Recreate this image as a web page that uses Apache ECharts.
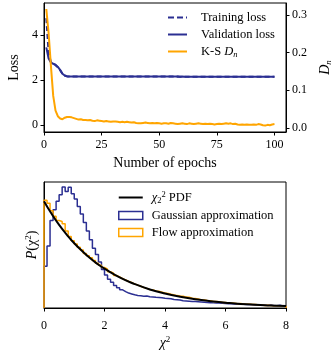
<!DOCTYPE html>
<html>
<head>
<meta charset="utf-8">
<script src="https://cdn.jsdelivr.net/npm/echarts@6/dist/echarts.min.js"></script>
<style>
html, body { margin: 0; padding: 0; background: #fff; }
#main { width: 336px; height: 355px; }
</style>
</head>
<body>
<div id="main"></div>
<script>
// top panel: losses and K-S statistic per epoch
var epochs = [1, 2, 3, 4, 5, 6, 7, 8, 9, 10, 11, 12, 13, 14, 15, 16, 17, 18, 19, 20,
    21, 22, 23, 24, 25, 26, 27, 28, 29, 30, 31, 32, 33, 34, 35, 36, 37, 38, 39, 40,
    41, 42, 43, 44, 45, 46, 47, 48, 49, 50, 51, 52, 53, 54, 55, 56, 57, 58, 59, 60,
    61, 62, 63, 64, 65, 66, 67, 68, 69, 70, 71, 72, 73, 74, 75, 76, 77, 78, 79, 80,
    81, 82, 83, 84, 85, 86, 87, 88, 89, 90, 91, 92, 93, 94, 95, 96, 97, 98, 99, 100];

var trainLoss = [4.75, 3.20, 2.80, 2.72, 2.66, 2.57, 2.43, 2.27, 2.19, 2.16,
    2.16, 2.15, 2.15, 2.15, 2.15, 2.15, 2.15, 2.15, 2.15, 2.15,
    2.15, 2.15, 2.15, 2.15, 2.15, 2.15, 2.15, 2.15, 2.15, 2.15,
    2.15, 2.15, 2.15, 2.15, 2.15, 2.15, 2.15, 2.15, 2.15, 2.15,
    2.15, 2.15, 2.15, 2.15, 2.15, 2.15, 2.15, 2.15, 2.15, 2.15,
    2.15, 2.15, 2.15, 2.15, 2.15, 2.15, 2.14, 2.15, 2.14, 2.14,
    2.14, 2.14, 2.14, 2.14, 2.14, 2.14, 2.14, 2.14, 2.14, 2.14,
    2.14, 2.14, 2.14, 2.14, 2.14, 2.14, 2.14, 2.14, 2.14, 2.14,
    2.14, 2.14, 2.14, 2.14, 2.14, 2.14, 2.14, 2.14, 2.14, 2.14,
    2.14, 2.14, 2.14, 2.14, 2.14, 2.14, 2.14, 2.14, 2.14, 2.14];

var valLoss = [3.45, 2.95, 2.78, 2.72, 2.68, 2.58, 2.45, 2.28, 2.20, 2.17,
    2.16, 2.16, 2.16, 2.15, 2.15, 2.15, 2.15, 2.15, 2.15, 2.15,
    2.15, 2.15, 2.15, 2.15, 2.15, 2.15, 2.15, 2.15, 2.15, 2.15,
    2.15, 2.15, 2.15, 2.15, 2.15, 2.15, 2.15, 2.15, 2.15, 2.15,
    2.15, 2.15, 2.15, 2.15, 2.15, 2.15, 2.15, 2.15, 2.15, 2.15,
    2.15, 2.15, 2.15, 2.15, 2.15, 2.15, 2.15, 2.15, 2.14, 2.15,
    2.14, 2.14, 2.14, 2.14, 2.14, 2.14, 2.14, 2.14, 2.14, 2.14,
    2.14, 2.14, 2.14, 2.14, 2.14, 2.14, 2.14, 2.14, 2.14, 2.14,
    2.14, 2.14, 2.14, 2.14, 2.14, 2.14, 2.14, 2.14, 2.14, 2.14,
    2.14, 2.14, 2.14, 2.14, 2.14, 2.14, 2.14, 2.14, 2.14, 2.14];

var ksDn = [0.316, 0.252, 0.165, 0.085, 0.046, 0.031, 0.025, 0.023, 0.027, 0.029,
    0.029, 0.028, 0.026, 0.024, 0.022, 0.023, 0.021, 0.021, 0.020, 0.021,
    0.019, 0.018, 0.020, 0.019, 0.018, 0.017, 0.018, 0.017, 0.016, 0.017,
    0.017, 0.016, 0.015, 0.016, 0.015, 0.016, 0.015, 0.014, 0.015, 0.013,
    0.012, 0.012, 0.013, 0.014, 0.013, 0.012, 0.013, 0.012, 0.013, 0.012,
    0.011, 0.012, 0.012, 0.011, 0.013, 0.012, 0.011, 0.010, 0.011, 0.012,
    0.011, 0.010, 0.012, 0.011, 0.010, 0.011, 0.012, 0.011, 0.010, 0.011,
    0.010, 0.011, 0.010, 0.009, 0.010, 0.011, 0.010, 0.011, 0.012, 0.011,
    0.012, 0.010, 0.011, 0.009, 0.008, 0.009, 0.008, 0.009, 0.008, 0.008,
    0.009, 0.008, 0.010, 0.009, 0.007, 0.006, 0.008, 0.007, 0.009, 0.010];

var epochTicks = [0, 25, 50, 75, 100];
var lossTicks = [0, 2, 4];
var dnTicks = [0, 0.1, 0.2, 0.3];

// bottom panel: chi2 pdf and the two histograms (bin width 0.1)
var pdfX = [0, 0.25, 0.5, 0.75, 1, 1.25, 1.5, 1.75, 2, 2.5, 3, 3.5, 4, 4.5, 5, 5.5, 6, 6.5, 7, 7.5, 8];
var pdfY = [0.5, 0.441, 0.389, 0.344, 0.303, 0.268, 0.236, 0.208, 0.184, 0.143, 0.112, 0.087, 0.068,
    0.053, 0.041, 0.032, 0.025, 0.019, 0.015, 0.012, 0.009];

var binEdges = [0.0, 0.1, 0.2, 0.3, 0.4, 0.5, 0.6, 0.7, 0.8, 0.9, 1.0, 1.1, 1.2, 1.3, 1.4, 1.5, 1.6, 1.7, 1.8, 1.9,
    2.0, 2.1, 2.2, 2.3, 2.4, 2.5, 2.6, 2.7, 2.8, 2.9, 3.0, 3.1, 3.2, 3.3, 3.4, 3.5, 3.6, 3.7, 3.8, 3.9,
    4.0, 4.1, 4.2, 4.3, 4.4, 4.5, 4.6, 4.7, 4.8, 4.9, 5.0, 5.1, 5.2, 5.3, 5.4, 5.5, 5.6, 5.7, 5.8, 5.9,
    6.0, 6.1, 6.2, 6.3, 6.4, 6.5, 6.6, 6.7, 6.8, 6.9, 7.0, 7.1, 7.2, 7.3, 7.4, 7.5, 7.6, 7.7, 7.8, 7.9, 8.0];

var gaussHist = [0.195, 0.29, 0.41, 0.46, 0.50, 0.53, 0.567, 0.545, 0.565, 0.535,
    0.51, 0.475, 0.44, 0.40, 0.36, 0.32, 0.28, 0.25, 0.215, 0.18,
    0.155, 0.135, 0.12, 0.105, 0.095, 0.085, 0.077, 0.07, 0.066, 0.062,
    0.059, 0.057, 0.055, 0.056, 0.053, 0.052, 0.05, 0.049, 0.048, 0.046,
    0.045, 0.043, 0.04, 0.039, 0.037, 0.034, 0.033, 0.032, 0.031, 0.03,
    0.029, 0.028, 0.027, 0.026, 0.025, 0.024, 0.023, 0.023, 0.022, 0.021,
    0.02, 0.02, 0.019, 0.018, 0.018, 0.017, 0.016, 0.016, 0.015, 0.014,
    0.015, 0.013, 0.013, 0.012, 0.014, 0.011, 0.011, 0.013, 0.01, 0.01];

var flowHist = [0.505, 0.49, 0.455, 0.43, 0.41, 0.405, 0.395, 0.36, 0.335, 0.315,
    0.30, 0.285, 0.272, 0.255, 0.245, 0.235, 0.222, 0.21, 0.20, 0.19,
    0.182, 0.17, 0.163, 0.152, 0.146, 0.137, 0.131, 0.124, 0.12, 0.112,
    0.107, 0.102, 0.096, 0.092, 0.087, 0.085, 0.08, 0.078, 0.074, 0.07,
    0.068, 0.064, 0.061, 0.058, 0.056, 0.055, 0.051, 0.05, 0.046, 0.044,
    0.042, 0.038, 0.037, 0.035, 0.034, 0.031, 0.03, 0.029, 0.026, 0.026,
    0.024, 0.023, 0.022, 0.02, 0.021, 0.019, 0.017, 0.018, 0.016, 0.016,
    0.014, 0.014, 0.012, 0.013, 0.012, 0.011, 0.011, 0.01, 0.009, 0.009];

var chiTicks = [0, 2, 4, 6, 8];

var blue = '#2b2f92';
var orange = '#ffa500';
var font = 'Liberation Serif';

function pairs(xs, ys) {
    let out = [];
    for (let i = 0; i < ys.length; i = i + 1) {
        out.push([xs[i], ys[i]]);
    }
    return out;
}

// step outline like matplotlib histtype='step'
function stepOutline(edges, counts) {
    let out = [[edges[0], 0]];
    for (let i = 0; i < counts.length; i = i + 1) {
        out.push([edges[i], counts[i]]);
    }
    out.push([edges[counts.length], counts[counts.length - 1]]);
    out.push([edges[counts.length], 0]);
    return out;
}

var richText = {
    i: { fontFamily: font, fontStyle: 'italic', fontSize: 14, color: '#000' },
    s: { fontFamily: font, fontStyle: 'italic', fontSize: 9, color: '#000', padding: [7, 0, 0, 0] },
    sup: { fontFamily: font, fontSize: 9, color: '#000', padding: [0, 0, 7, 0] },
    sub: { fontFamily: font, fontSize: 9, color: '#000', padding: [7, 0, 0, 0] }
};

var legendRich = {
    i: { fontFamily: font, fontStyle: 'italic', fontSize: 12.5, color: '#000' },
    s: { fontFamily: font, fontStyle: 'italic', fontSize: 8.5, color: '#000', padding: [6, 0, 0, 0] },
    sup: { fontFamily: font, fontSize: 8.5, color: '#000', padding: [0, 0, 6, 0] },
    sub: { fontFamily: font, fontSize: 8.5, color: '#000', padding: [6, 0, 0, 0] }
};

var tickStyle = { show: true, length: 3.5, lineStyle: { color: '#000', width: 1 } };
var labelStyle = { color: '#000', fontSize: 12, fontFamily: font };

var myChart = echarts.init(document.getElementById('main'));

var option = {
    animation: false,
    backgroundColor: '#fff',
    textStyle: { fontFamily: font, color: '#000' },
    grid: [
        { left: 44, top: 3, width: 242, height: 129, show: true, borderColor: '#000', borderWidth: 1, containLabel: false, outerBoundsMode: 'none' },
        { left: 44, top: 182, width: 242, height: 126, show: true, borderColor: '#000', borderWidth: 1, containLabel: false, outerBoundsMode: 'none' }
    ],
    legend: [
        {
            data: [
                { name: 'Training loss', icon: 'path://M0,0h6v2h-6z M9,0h6v2h-6z M18,0h1v2h-1z', itemStyle: { color: blue } },
                { name: 'Validation loss', icon: 'path://M0,0h19v2h-19z', itemStyle: { color: blue } },
                { name: 'K-S Dn', icon: 'path://M0,0h19v2h-19z', itemStyle: { color: orange } }
            ],
            orient: 'vertical',
            left: 168,
            top: 11,
            padding: 0,
            itemWidth: 19,
            itemHeight: 10,
            itemGap: 4,
            textStyle: { fontFamily: font, fontSize: 12.5, color: '#000', padding: [0, 0, 0, 9], rich: legendRich },
            formatter: function (name) {
                if (name === 'K-S Dn') {
                    return 'K-S {i|D}{s|n}';
                }
                return name;
            }
        },
        {
            data: [
                { name: 'chi2 PDF', icon: 'path://M0,0h24v2h-24z', itemStyle: { color: '#000' } },
                { name: 'Gaussian approximation', icon: 'rect', itemStyle: { color: 'rgba(0,0,0,0)', borderColor: blue, borderWidth: 1.5 } },
                { name: 'Flow approximation', icon: 'rect', itemStyle: { color: 'rgba(0,0,0,0)', borderColor: orange, borderWidth: 1.5 } }
            ],
            orient: 'vertical',
            left: 118,
            top: 190,
            padding: 0,
            itemWidth: 24,
            itemHeight: 8,
            itemGap: 4,
            textStyle: { fontFamily: font, fontSize: 12.5, color: '#000', padding: [0, 0, 0, 4], rich: legendRich },
            formatter: function (name) {
                if (name === 'chi2 PDF') {
                    return '{i|χ}{sub|2}{sup|2} PDF';
                }
                return name;
            }
        }
    ],
    xAxis: [
        {
            gridIndex: 0, type: 'value', min: 0, max: 105,
            axisLine: { show: true, onZero: false, lineStyle: { color: '#000' } },
            axisTick: Object.assign({ customValues: epochTicks }, tickStyle),
            axisLabel: Object.assign({ customValues: epochTicks, margin: 7 }, labelStyle),
            splitLine: { show: false },
            name: 'Number of epochs', nameLocation: 'middle', nameGap: 24,
            nameTextStyle: { fontSize: 14, color: '#000', fontFamily: font }
        },
        {
            gridIndex: 1, type: 'value', min: 0, max: 8,
            axisLine: { show: true, onZero: false, lineStyle: { color: '#000' } },
            axisTick: Object.assign({ customValues: chiTicks }, tickStyle),
            axisLabel: Object.assign({ customValues: chiTicks, margin: 12 }, labelStyle),
            splitLine: { show: false },
            name: '{i|χ}{sup|2}', nameLocation: 'middle', nameGap: 27,
            nameTextStyle: { fontSize: 14, color: '#000', fontFamily: font, rich: richText }
        }
    ],
    yAxis: [
        {
            gridIndex: 0, type: 'value', min: -0.31, max: 5.42,
            axisLine: { show: true, onZero: false, lineStyle: { color: '#000' } },
            axisTick: Object.assign({ customValues: lossTicks }, tickStyle),
            axisLabel: Object.assign({ customValues: lossTicks, margin: 6 }, labelStyle),
            splitLine: { show: false },
            name: 'Loss', nameLocation: 'middle', nameGap: 21,
            nameTextStyle: { fontSize: 14, color: '#000', fontFamily: font }
        },
        {
            gridIndex: 0, type: 'value', position: 'right', min: -0.011, max: 0.332,
            axisLine: { show: true, onZero: false, lineStyle: { color: '#000' } },
            axisTick: Object.assign({ customValues: dnTicks }, tickStyle),
            axisLabel: Object.assign({
                customValues: dnTicks, margin: 6,
                formatter: function (v) { return v.toFixed(1); }
            }, labelStyle),
            splitLine: { show: false },
            name: '{i|D}{s|n}', nameLocation: 'middle', nameGap: 31, nameRotate: 90,
            nameTextStyle: { fontSize: 14, color: '#000', fontFamily: font, rich: richText }
        },
        {
            gridIndex: 1, type: 'value', min: 0, max: 0.59,
            axisLine: { show: true, onZero: false, lineStyle: { color: '#000' } },
            axisTick: { show: false },
            axisLabel: { show: false },
            splitLine: { show: false },
            name: '{i|P}(χ{sup|2})', nameLocation: 'middle', nameGap: 4,
            nameTextStyle: { fontSize: 14, color: '#000', fontFamily: font, rich: richText }
        }
    ],
    series: [
        {
            name: 'Training loss', type: 'line', xAxisIndex: 0, yAxisIndex: 0,
            data: pairs(epochs, trainLoss), symbol: 'none',
            lineStyle: { color: blue, width: 2, type: [5, 3] }, itemStyle: { color: blue }, z: 2
        },
        {
            name: 'Validation loss', type: 'line', xAxisIndex: 0, yAxisIndex: 0,
            data: pairs(epochs, valLoss), symbol: 'none',
            lineStyle: { color: blue, width: 2 }, itemStyle: { color: blue }, z: 3
        },
        {
            name: 'K-S Dn', type: 'line', xAxisIndex: 0, yAxisIndex: 1,
            data: pairs(epochs, ksDn), symbol: 'none',
            lineStyle: { color: orange, width: 2 }, itemStyle: { color: orange }, z: 4
        },
        {
            name: 'Gaussian approximation', type: 'line', xAxisIndex: 1, yAxisIndex: 2,
            data: stepOutline(binEdges, gaussHist), step: 'end', symbol: 'none',
            lineStyle: { color: blue, width: 1.5 }, itemStyle: { color: blue }, z: 2
        },
        {
            name: 'Flow approximation', type: 'line', xAxisIndex: 1, yAxisIndex: 2,
            data: stepOutline(binEdges, flowHist), step: 'end', symbol: 'none',
            lineStyle: { color: orange, width: 1.5 }, itemStyle: { color: orange }, z: 3
        },
        {
            name: 'chi2 PDF', type: 'line', xAxisIndex: 1, yAxisIndex: 2,
            data: pairs(pdfX, pdfY), smooth: true, symbol: 'none',
            lineStyle: { color: '#000', width: 2 }, itemStyle: { color: '#000' }, z: 4
        }
    ]
};

myChart.setOption(option);
</script>
</body>
</html>
